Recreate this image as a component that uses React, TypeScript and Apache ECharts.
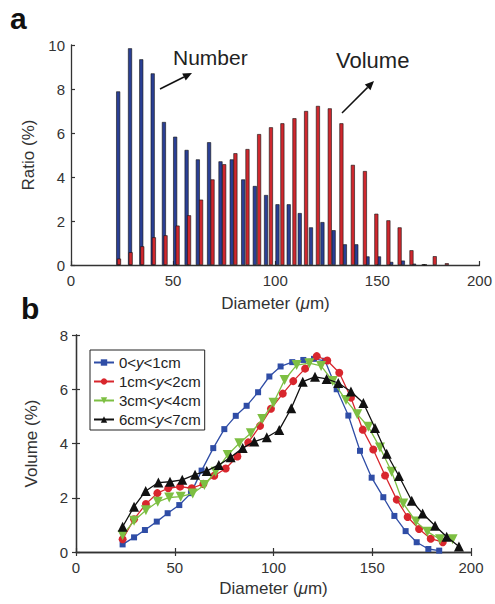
import React, { useEffect, useRef } from "react";
import * as echarts from "echarts";

// ---- Panel a: bar histogram (Ratio %) ----
const numberX = [23.1, 28.9, 34.4, 40.0, 45.5, 51.0, 56.6, 62.1, 67.6, 73.2, 78.7, 84.3, 90.0, 95.5, 101.1, 106.6, 112.0, 117.5, 123.1, 128.6, 134.1, 139.7, 145.2, 150.8, 156.8, 162.5, 168.0, 173.4];
const numberY = [7.89, 9.85, 9.35, 8.71, 6.5, 5.83, 5.23, 4.8, 5.58, 4.71, 4.8, 3.89, 3.59, 3.18, 2.76, 2.76, 2.36, 1.71, 1.95, 1.58, 0.94, 0.94, 0.39, 0.39, 0.14, 0.2, 0.06, 0.02];
const volumeX = [23.5, 29.2, 34.9, 40.6, 46.3, 52.2, 57.8, 63.7, 69.3, 75.0, 80.5, 86.4, 92.1, 97.9, 103.5, 109.4, 115.1, 120.9, 126.7, 132.4, 138.0, 143.9, 149.5, 155.4, 160.9, 166.7, 172.6, 178.1, 184.0];
const volumeY = [0.29, 0.58, 0.85, 1.26, 1.35, 1.79, 2.26, 2.97, 3.89, 4.58, 5.08, 5.27, 5.95, 6.26, 6.44, 6.67, 7.0, 7.23, 7.12, 6.44, 4.55, 4.27, 2.33, 2.03, 1.71, 0.67, 0.03, 0.4, 0.08];

// ---- Panel b: volume distributions by height ----
const seriesNames = ["0<y<1cm", "1cm<y<2cm", "3cm<y<4cm", "6cm<y<7cm"];
const b1X = [23.6, 29.4, 34.9, 40.9, 46.4, 52.3, 58.2, 63.6, 69.5, 75.1, 80.9, 86.4, 92.2, 97.9, 103.6, 109.5, 115.1, 120.5, 126.1, 132.0, 137.9, 143.8, 149.7, 155.6, 161.2, 166.9, 172.5, 178.4, 183.9];
const b1Y = [0.28, 0.54, 0.81, 1.12, 1.43, 1.73, 2.17, 3.0, 3.83, 4.53, 5.02, 5.39, 5.89, 6.47, 6.84, 7.0, 7.08, 7.12, 7.05, 6.0, 5.03, 3.73, 2.74, 2.02, 1.33, 0.77, 0.36, 0.11, 0.05];
const b2X = [23.6, 29.4, 35.4, 41.2, 46.7, 52.7, 58.6, 64.5, 70.0, 75.8, 81.7, 87.2, 93.2, 98.7, 104.7, 110.0, 116.0, 121.9, 127.2, 133.3, 139.2, 145.2, 150.5, 156.5, 162.4, 167.9, 173.7, 179.6, 185.7];
const b2Y = [0.47, 1.21, 1.77, 2.17, 2.35, 2.41, 2.35, 2.51, 2.81, 3.08, 3.52, 4.04, 4.65, 5.28, 5.84, 6.30, 6.76, 7.22, 7.06, 6.61, 5.69, 4.51, 3.78, 2.82, 1.93, 1.29, 0.85, 0.49, 0.36];
const b3X = [23.6, 29.4, 35.4, 41.4, 47.2, 53.0, 59.1, 65.0, 70.7, 76.8, 82.7, 88.5, 94.3, 100.0, 105.6, 111.7, 118.1, 124.1, 130.0, 136.7, 142.4, 148.0, 153.9, 159.8, 165.7, 172.2, 177.9, 184.3, 190.7];
const b3Y = [0.62, 1.15, 1.54, 1.85, 2.01, 2.04, 2.16, 2.47, 2.96, 3.58, 4.01, 4.38, 4.90, 5.5, 6.34, 6.89, 6.96, 6.86, 6.3, 5.6, 5.08, 4.62, 3.85, 2.96, 1.79, 1.12, 0.75, 0.47, 0.47];
const b4X = [23.6, 29.4, 35.3, 41.7, 47.6, 53.8, 60.3, 66.2, 72.3, 78.3, 84.4, 90.3, 96.6, 102.9, 109.0, 114.8, 121.0, 126.9, 132.8, 139.2, 145.5, 151.4, 157.3, 163.5, 170.0, 175.5, 181.8, 187.7, 193.9];
const b4Y = [0.93, 1.67, 2.25, 2.56, 2.59, 2.66, 2.85, 2.99, 3.21, 3.49, 3.83, 4.07, 4.23, 4.50, 5.30, 6.28, 6.46, 6.38, 6.23, 5.92, 5.49, 4.57, 3.62, 2.80, 1.89, 1.42, 0.97, 0.56, 0.20];

const xTicksTop = { min: 0, max: 200, interval: 50 };
const yTicksTop = { min: 0, max: 10, interval: 2 };
const yTicksBottom = { min: 0, max: 8, interval: 2 };

const FONT = '"Liberation Sans", Arial, Helvetica, sans-serif';
const AX = "#333333";

function pairs(xs: number[], ys: number[]) {
  return xs.map((x, i) => [x, ys[i]]);
}

function arrow(x1: number, y1: number, x2: number, y2: number) {
  const dx = x2 - x1;
  const dy = y2 - y1;
  const len = Math.sqrt(dx * dx + dy * dy);
  const ux = dx / len;
  const uy = dy / len;
  const hl = 9;
  const hw = 4;
  const bx = x2 - ux * hl;
  const by = y2 - uy * hl;
  return [
    {
      type: "line",
      shape: { x1, y1, x2: bx, y2: by },
      style: { stroke: "#111", lineWidth: 1.5 },
    },
    {
      type: "polygon",
      shape: {
        points: [
          [x2, y2],
          [bx - uy * hw, by + ux * hw],
          [bx + uy * hw, by - ux * hw],
        ],
      },
      style: { fill: "#111" },
    },
  ];
}

function measure(text: string, font: string) {
  const c = document.createElement("canvas").getContext("2d");
  if (!c) return text.length * 9;
  c.font = font;
  return c.measureText(text).width;
}

function diameterTitle(cx: number, cy: number) {
  const size = 17;
  const parts = [
    { t: "Diameter (", italic: false },
    { t: "μ", italic: true },
    { t: "m)", italic: false },
  ];
  const widths = parts.map((p) => measure(p.t, `${p.italic ? "italic " : ""}${size}px ${FONT}`));
  const total = widths.reduce((a, b) => a + b, 0);
  let x = cx - total / 2;
  return parts.map((p, i) => {
    const el = {
      type: "text",
      x,
      y: cy,
      style: {
        text: p.t,
        fontSize: size,
        fontStyle: p.italic ? "italic" : "normal",
        fill: AX,
        fontFamily: FONT,
        verticalAlign: "middle",
      },
    };
    x += widths[i];
    return el;
  });
}

export default function App() {
  const ref = useRef<HTMLDivElement>(null);

  useEffect(() => {
    if (!ref.current) return;
    const chart = echarts.init(ref.current, undefined, { renderer: "svg" });

    const axisLine = { show: true, lineStyle: { color: AX, width: 1.3 } };
    const axisTick = { show: true, inside: true, length: 4, lineStyle: { color: AX, width: 1.2 } };
    const axisLabel = { fontSize: 15, color: AX, fontFamily: FONT };
    const plain = { fontSize: 17, color: AX, fontFamily: FONT, fontWeight: "normal" };

    const lineColors = ["#2F4DA6", "#D8262D", "#7DBF42", "#111111"];
    const symbols = ["rect", "circle", "triangle", "triangle"];
    const symbolSizes = [6, 8, 10, 10];
    const rotates = [0, 0, 180, 0];
    const xs = [b1X, b2X, b3X, b4X];
    const ys = [b1Y, b2Y, b3Y, b4Y];

    const lineSeries = seriesNames.map((name, k) => ({
      type: "line",
      name,
      xAxisIndex: 1,
      yAxisIndex: 1,
      data: pairs(xs[k], ys[k]),
      symbol: symbols[k],
      symbolSize: symbolSizes[k],
      symbolRotate: rotates[k],
      showAllSymbol: true,
      lineStyle: { color: lineColors[k], width: 1.3 },
      itemStyle: { color: lineColors[k] },
      z: 3 + k,
    }));

    chart.setOption({
      animation: false,
      textStyle: { fontFamily: FONT, fontWeight: "normal" },
      grid: [
        { left: 71, top: 45, width: 409, height: 220 },
        { left: 76, top: 335, width: 395, height: 217 },
      ],
      xAxis: [
        {
          gridIndex: 0,
          type: "value",
          ...xTicksTop,
          axisLine,
          axisTick,
          axisLabel: { ...axisLabel, margin: 8 },
          splitLine: { show: false },
        },
        {
          gridIndex: 1,
          type: "value",
          ...xTicksTop,
          axisLine,
          axisTick,
          axisLabel: { ...axisLabel, margin: 8 },
          splitLine: { show: false },
        },
        {
          gridIndex: 1,
          type: "value",
          position: "top",
          ...xTicksTop,
          axisLine,
          axisTick,
          axisLabel: { show: false },
          splitLine: { show: false },
        },
      ],
      yAxis: [
        {
          gridIndex: 0,
          type: "value",
          ...yTicksTop,
          axisLine,
          axisTick,
          axisLabel: { ...axisLabel, margin: 6 },
          splitLine: { show: false },
          name: "Ratio (%)",
          nameLocation: "middle",
          nameGap: 33,
          nameTextStyle: plain,
        },
        {
          gridIndex: 1,
          type: "value",
          ...yTicksBottom,
          axisLine,
          axisTick,
          axisLabel: { ...axisLabel, margin: 8 },
          splitLine: { show: false },
          name: "Volume (%)",
          nameLocation: "middle",
          nameGap: 36,
          nameTextStyle: plain,
        },
        {
          gridIndex: 1,
          type: "value",
          position: "right",
          ...yTicksBottom,
          axisLine,
          axisTick,
          axisLabel: { show: false },
          splitLine: { show: false },
        },
      ],
      legend: {
        data: seriesNames,
        orient: "vertical",
        left: 90,
        top: 350,
        itemWidth: 20,
        itemHeight: 8,
        itemGap: 4,
        padding: [5, 4, 3, 3],
        backgroundColor: "#fff",
        borderColor: "#222",
        borderWidth: 1,
        borderRadius: 0,
        formatter: (name: string) => name.replace("y", "{i|y}"),
        textStyle: {
          fontSize: 15,
          color: "#222",
          fontFamily: FONT,
          rich: { i: { fontStyle: "italic", fontSize: 15, color: "#222", fontFamily: FONT } },
        },
      },
      series: [
        {
          type: "bar",
          name: "Number",
          xAxisIndex: 0,
          yAxisIndex: 0,
          data: pairs(numberX, numberY),
          barWidth: 4,
          itemStyle: { color: "#2A3F94", borderColor: "#111", borderWidth: 0.6 },
        },
        {
          type: "bar",
          name: "Volume",
          xAxisIndex: 0,
          yAxisIndex: 0,
          data: pairs(volumeX, volumeY),
          barWidth: 4,
          barGap: "-100%",
          itemStyle: { color: "#CF282E", borderColor: "#111", borderWidth: 0.6 },
        },
        ...lineSeries,
      ],
      graphic: [
        {
          type: "text",
          left: 10,
          top: 3,
          style: { text: "a", fontSize: 30, fontWeight: "bold", fill: "#111", fontFamily: FONT },
        },
        {
          type: "text",
          left: 21,
          top: 293,
          style: { text: "b", fontSize: 30, fontWeight: "bold", fill: "#111", fontFamily: FONT },
        },
        {
          type: "text",
          x: 173,
          y: 57,
          style: { text: "Number", fontSize: 21, fill: "#222", fontFamily: FONT, verticalAlign: "middle" },
        },
        {
          type: "text",
          x: 336,
          y: 60,
          style: { text: "Volume", fontSize: 22, fill: "#222", fontFamily: FONT, verticalAlign: "middle" },
        },
        ...diameterTitle(275.5, 303),
        ...diameterTitle(273.5, 588),
        ...arrow(160, 89, 192, 73),
        ...arrow(342, 113, 374, 81),
      ],
    });

    return () => chart.dispose();
  }, []);

  return (
    <div
      ref={ref}
      style={{ position: "fixed", left: 0, top: 0, width: 495, height: 604, background: "#fff" }}
    />
  );
}
